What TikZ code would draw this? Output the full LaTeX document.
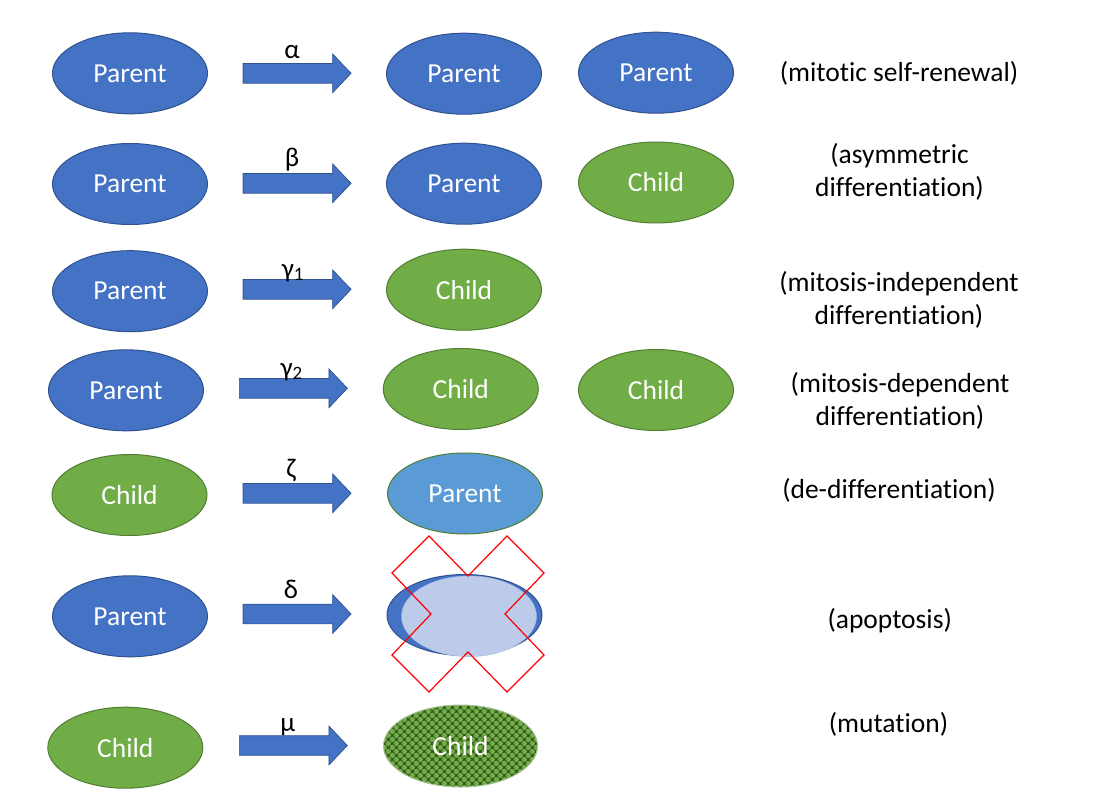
\documentclass[tikz,border=0pt]{standalone}
\usepackage{fontspec}
\setmainfont{Carlito}[Ligatures=NoCommon]
\usetikzlibrary{shapes.geometric,shapes.arrows}
\definecolor{cellblue}{HTML}{4472C4}
\definecolor{blueline}{HTML}{2F528F}
\definecolor{cellgreen}{HTML}{70AD47}
\definecolor{greenline}{HTML}{507E32}
\definecolor{skyblue}{HTML}{5B9BD5}
\definecolor{fadeblue}{HTML}{BCCBE9}
\definecolor{fadeline}{HTML}{A8BBE0}
\definecolor{darkgreen}{HTML}{375623}
\definecolor{paleline}{HTML}{A9C295}
\tikzset{
  cell/.style={ellipse, minimum width=155, minimum height=81, inner sep=0, line width=1,
    text=white, font=\fontsize{27.5}{33}\selectfont},
  parent/.style={cell, draw=blueline, fill=cellblue},
  child/.style={cell, draw=greenline, fill=cellgreen},
  fatarrow/.style={single arrow, draw=blueline, fill=cellblue, line width=0.7,
    minimum height=108, single arrow head extend=9.5, single arrow tip angle=93,
    inner xsep=0, inner ysep=9.5, anchor=tail},
  rate/.style={font=\fontsize{27}{32}\selectfont, anchor=base, inner sep=0},
  event/.style={font=\fontsize{27.5}{33}\selectfont, align=center, inner sep=0},
}
\begin{document}
\begin{tikzpicture}[x=1pt,y=-1pt]
	\useasboundingbox (0,0) rectangle (1119,808);
	% Rad 1: alpha
	\node[parent] (p1) at (130,73.3) {Parent};
	\node[fatarrow] (a1) at (242.7,73.3) {};
	\node[rate] (l1) at (292,58.3) {α};
	\node[parent] (q1) at (464,73.7) {Parent};
	\node[parent] (r1) at (656,72.7) {Parent};
	\node[event, anchor=base] (e1) at (899,81.7) {(mitotic self-renewal)};
	% Rad 2: beta
	\node[parent] (p2) at (130,184) {Parent};
	\node[fatarrow] (a2) at (242.7,183.3) {};
	\node[rate] (l2) at (292,166.5) {β};
	\node[parent] (q2) at (464,183.7) {Parent};
	\node[child] (r2) at (656,182.5) {Child};
	\node[event] (e2) at (899.5,172.2) {(asymmetric\\differentiation)};
	% Rad 3: gamma 1
	\node[parent] (p3) at (130,291.2) {Parent};
	\node[fatarrow] (a3) at (242.7,289.3) {};
	\node[rate] (l3) at (293,277) {γ\textsubscript{1}};
	\node[child] (q3) at (464,289.7) {Child};
	\node[event] (e3) at (899,300) {(mitosis-independent\\differentiation)};
	% Rad 4: gamma 2
	\node[parent] (p4) at (126,390.3) {Parent};
	\node[fatarrow] (a4) at (239,388.3) {};
	\node[rate] (l4) at (291.7,376) {γ\textsubscript{2}};
	\node[child] (q4) at (460.8,389) {Child};
	\node[child] (r4) at (656,390) {Child};
	\node[event] (e4) at (900,401.2) {(mitosis-dependent\\differentiation)};
	% Rad 5: zeta
	\node[child] (p5) at (129.5,495) {Child};
	\node[fatarrow] (a5) at (242.7,493.3) {};
	\node[rate] (l5) at (291,477.5) {ζ};
	\node[cell, draw=greenline, fill=skyblue] (q5) at (465,493.5) {Parent};
	\node[event, anchor=base] (e5) at (889,498.3) {(de-differentiation)};
	% Rad 6: delta, overstreket celle
	\node[parent] (p6) at (130,616.3) {Parent};
	\node[fatarrow] (a6) at (242.7,614) {};
	\node[rate] (l6) at (291,598) {δ};
	\node[parent] (q6) at (464.5,615) {};
	\node[ellipse, draw=fadeline, fill=fadeblue, minimum width=135, minimum height=80.6,
	  inner sep=0] (f6) at (469,616.3) {};
	\begin{scope}[shift={(468,614)}]
		\draw[red, line width=1.2, line join=miter] (-76,-41) -- (-39,-78) -- (0,-38) -- (39,-78)
		  -- (76,-41) -- (37,0) -- (76,41) -- (39,78) -- (0,38) -- (-39,78) -- (-76,41)
		  -- (-37,0) -- cycle;
	\end{scope}
	\node[event, anchor=base] (e6) at (889.7,628.3) {(apoptosis)};
	% Rad 7: mu, mønstret celle
	\node[child] (p7) at (125.3,747.7) {Child};
	\node[fatarrow] (a7) at (239,745.5) {};
	\node[rate] (l7) at (287.7,731) {μ};
	\node[cell, draw=paleline, fill=darkgreen, minimum width=154, minimum height=82,
	  path picture={
	    \begin{scope}[shift={(path picture bounding box.center)}]
	      \foreach \i in {-14,...,14}
	        \foreach \j in {-8,...,8}
	          \fill[cellgreen] (8*\i,8*\j) circle[radius=2.6] (8*\i+4,8*\j+4) circle[radius=2.6];
	    \end{scope}}] (q7) at (460.5,746) {Child};
	\node[event, anchor=base] (e7) at (888.5,732.7) {(mutation)};
\end{tikzpicture}
\end{document}
